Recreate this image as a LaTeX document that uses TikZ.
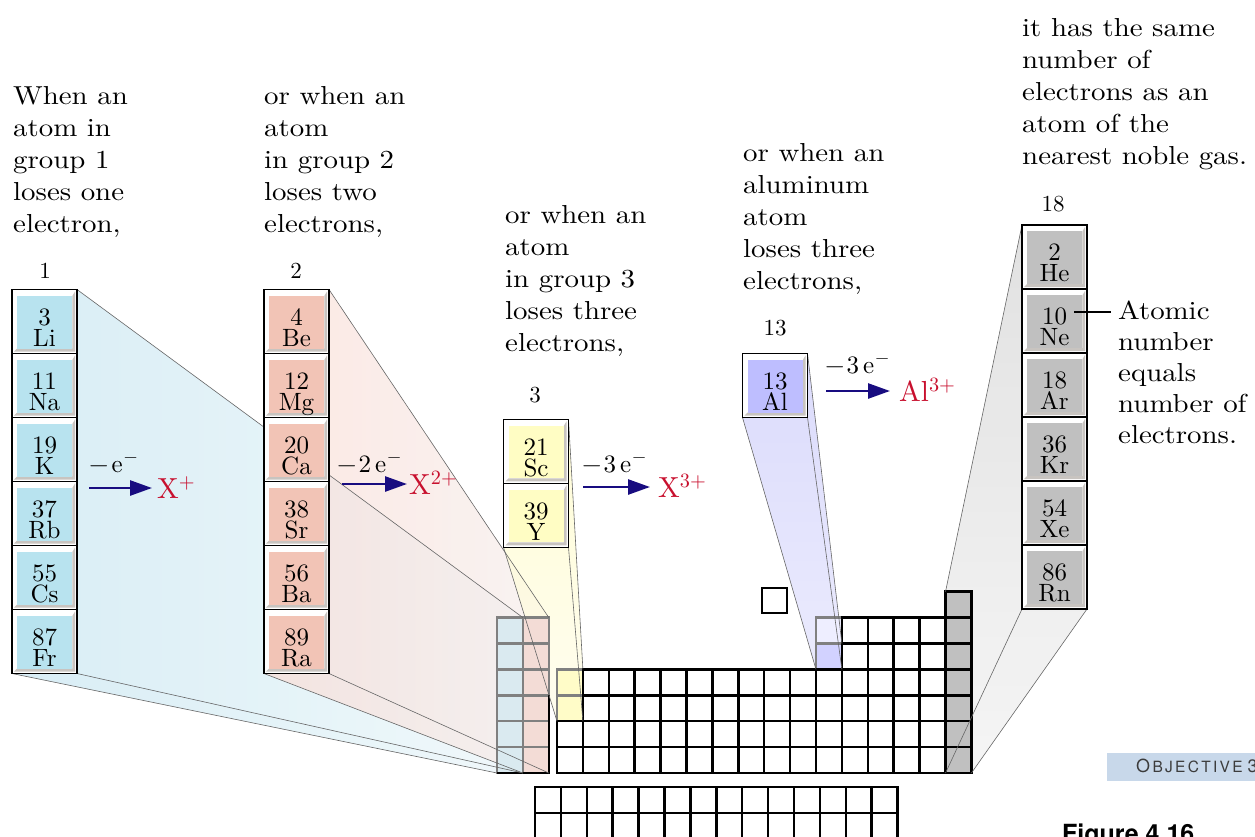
\documentclass[tikz,border=0pt]{standalone}
\usepackage{fontspec}
\setmainfont{lmroman10-regular.otf}
\newfontfamily\sansf{TeX Gyre Heros}
\newfontfamily\txtfont{lmroman10-regular.otf}[FakeStretch=1.11]
\usetikzlibrary{arrows.meta}
\definecolor{gOne}{RGB}{184,227,239}
\definecolor{gTwo}{RGB}{242,196,182}
\definecolor{gThree}{RGB}{255,253,196}
\definecolor{gAl}{RGB}{190,190,255}
\definecolor{gNoble}{RGB}{192,192,192}
\definecolor{bevelc}{RGB}{200,196,192}
\definecolor{fBlue}{RGB}{214,236,245}
\definecolor{fBlueB}{RGB}{240,248,251}
\definecolor{fPink}{RGB}{250,222,215}
\definecolor{fPinkB}{RGB}{246,238,236}
\definecolor{fYel}{RGB}{255,251,205}
\definecolor{fYelB}{RGB}{255,253,235}
\definecolor{fPur}{RGB}{216,216,252}
\definecolor{fPurB}{RGB}{232,232,253}
\definecolor{fGray}{RGB}{222,222,222}
\definecolor{fGrayB}{RGB}{244,244,244}
\definecolor{navyA}{RGB}{24,12,128}
\definecolor{redX}{RGB}{200,16,46}
\definecolor{objbg}{RGB}{200,216,234}
\definecolor{objtx}{RGB}{60,60,60}
\definecolor{cOne}{RGB}{218,234,240}
\definecolor{cTwo}{RGB}{243,220,214}
\definecolor{cYel}{RGB}{255,252,200}
\definecolor{cB}{RGB}{238,238,255}
\definecolor{cAl}{RGB}{210,210,255}
\definecolor{hlborder}{RGB}{128,128,128}

\newcommand\eltile[6]{%
  \node[tilebox] (#1) at ({#2+32.5},{#3+32}) {};
  \fill[bevelc] ({#2+63},{#3+2}) -- ({#2+63},{#3+62}) -- ({#2+2},{#3+62}) -- ({#2+5},{#3+59}) -- ({#2+60.4},{#3+59}) -- ({#2+60.4},{#3+6.4}) -- cycle;
  \fill[#4] ({#2+5},{#3+6.4}) rectangle ({#2+60.4},{#3+59});
  \node[tiletxt] (#1txt) at ({#2+32.5},{#3+18.5}) {\rule{0pt}{17pt}#5\\#6};
}

\begin{document}
\begin{tikzpicture}[x=1pt,y=-1pt,
  tilebox/.style={draw=black, line width=1.2pt, fill=white, minimum width=65pt, minimum height=64pt, inner sep=0pt, outer sep=0pt},
  tiletxt/.style={anchor=north, inner sep=0pt, align=center, font=\fontsize{25}{21}\selectfont},
  cell/.style={draw=black, line width=2.5pt, fill=white},
  hlcell/.style={draw=hlborder, line width=2.5pt},
  funnelline/.style={draw=black!60, line width=0.6pt},
  txt/.style={anchor=north west, inner sep=0pt, align=left, font=\txtfont\fontsize{26}{32}\selectfont},
  hdr/.style={anchor=base, inner sep=0pt, font=\fontsize{23}{23}\selectfont},
  rxn/.style={anchor=base west, inner sep=0pt, font=\fontsize{25}{25}\selectfont},
  ion/.style={anchor=base west, inner sep=0pt, text=redX, font=\fontsize{29}{29}\selectfont},
  rxarrow/.style={draw=navyA, line width=2.6pt, -{Triangle[length=22pt,width=15pt]}},
  leader/.style={draw=black, line width=2pt}]
\useasboundingbox (0,0) rectangle (1255,836);

% ---------- corner coordinates ----------
\coordinate (g1TL) at (12,289.5);  \coordinate (g1TR) at (77,289.5);
\coordinate (g1BL) at (12,673.5);  \coordinate (g1BR) at (77,673.5);
\coordinate (c1TR) at (522.9,617.6); \coordinate (c1BL) at (497,773); \coordinate (c1BR) at (522.9,773);
\coordinate (g2TL) at (264,289.5);  \coordinate (g2TR) at (329,289.5);
\coordinate (g2BL) at (264,673.5);  \coordinate (g2BR) at (329,673.5);
\coordinate (c2TR) at (548.8,617.6); \coordinate (c2BL) at (522.9,773); \coordinate (c2BR) at (548.8,773);
\coordinate (g3TL) at (503.5,419.3);  \coordinate (g3TR) at (568.5,419.3);
\coordinate (g3BL) at (503.5,547.3);  \coordinate (g3BR) at (568.5,547.3);
\coordinate (c3TR) at (582.9,669.4); \coordinate (c3BL) at (557,721.2); \coordinate (c3BR) at (582.9,721.2);
\coordinate (gaTL) at (742.5,353.5);  \coordinate (gaTR) at (807.5,353.5);
\coordinate (gaBL) at (742.5,417.5);  \coordinate (gaBR) at (807.5,417.5);
\coordinate (caTR) at (841.9,643.5); \coordinate (caBL) at (816,669.4); \coordinate (caBR) at (841.9,669.4);
\coordinate (g8TL) at (1022,225);  \coordinate (g8TR) at (1087,225);
\coordinate (g8BL) at (1022,609);  \coordinate (g8BR) at (1087,609);
\coordinate (c8TL) at (945.5,591.7); \coordinate (c8BL) at (945.5,773); \coordinate (c8BR) at (971.4,773);

% ---------- funnel fills ----------
\shade[left color=fBlue, right color=fBlueB, fill opacity=0.95] (g1TL) -- (g1TR) -- (c1TR) -- (c1BR) -- (c1BL) -- (g1BL) -- cycle;
\shade[left color=fPink, right color=fPinkB, fill opacity=0.7] (g2TL) -- (g2TR) -- (c2TR) -- (c2BR) -- (c2BL) -- (g2BL) -- cycle;
\shade[top color=fYel, bottom color=fYelB, fill opacity=0.8] (g3TL) -- (g3TR) -- (c3TR) -- (c3BR) -- (c3BL) -- (g3BL) -- cycle;
\shade[top color=fPur, bottom color=fPurB, fill opacity=0.9] (gaTL) -- (gaTR) -- (caTR) -- (caBR) -- (caBL) -- (gaBL) -- cycle;
\shade[top color=fGray, bottom color=fGrayB, fill opacity=0.9] (g8TL) -- (g8TR) -- (g8BR) -- (c8BR) -- (c8BL) -- (c8TL) -- cycle;

% ---------- periodic table ----------
\foreach \r in {0,...,5}{
  \draw[hlcell, fill=cOne] (497,{617.6+25.9*\r}) rectangle ++(25.9,25.9);
  \draw[hlcell, fill=cTwo] (522.9,{617.6+25.9*\r}) rectangle ++(25.9,25.9);
}
\draw[line width=2.5pt] (497,773) -- (548.8,773) -- (548.8,695);
\foreach \r in {0,1} \draw[hlcell, fill=cYel] (557,{669.4+25.9*\r}) rectangle ++(25.9,25.9);
\draw[hlcell, fill=cB] (816,617.6) rectangle ++(25.9,25.9);
\draw[hlcell, fill=cAl] (816,643.5) rectangle ++(25.9,25.9);
\foreach \r in {2,3} \draw[cell] (557,{669.4+25.9*\r}) rectangle ++(25.9,25.9);
\foreach \c in {1,...,9} \foreach \r in {0,...,3} \draw[cell] ({557+25.9*\c},{669.4+25.9*\r}) rectangle ++(25.9,25.9);
\foreach \r in {2,...,5} \draw[cell] (816,{617.6+25.9*\r}) rectangle ++(25.9,25.9);
\foreach \c in {11,...,14} \foreach \r in {0,...,5} \draw[cell] ({557+25.9*\c},{617.6+25.9*\r}) rectangle ++(25.9,25.9);
\foreach \r in {0,...,6} \draw[cell, fill=gNoble] (945.5,{591.7+25.9*\r}) rectangle ++(25.9,25.9);
\draw[cell] (762,588) rectangle (787,613);
\foreach \c in {0,...,13} \foreach \r in {0,1} \draw[cell] ({535+25.9*\c},{787+25.9*\r}) rectangle ++(25.9,25.9);

% ---------- funnel edges ----------
\draw[funnelline] (g1TR) -- (c1TR) (g1BL) -- (c1BL) (g1BR) -- (c1BR);
\draw[funnelline] (g2TR) -- (c2TR) (g2BL) -- (c2BL) (g2BR) -- (c2BR);
\draw[funnelline] (g3TR) -- (c3TR) (g3BL) -- (c3BL) (g3BR) -- (c3BR);
\draw[funnelline] (gaTR) -- (caTR) (gaBL) -- (caBL) (gaBR) -- (caBR);
\draw[funnelline] (g8TL) -- (c8TL) (g8BR) -- (c8BR) (g8BL) -- (c8BL);

% ---------- element tiles ----------
\eltile{li}{12}{289.5}{gOne}{3}{Li}
\eltile{na}{12}{353.5}{gOne}{11}{Na}
\eltile{k}{12}{417.5}{gOne}{19}{K}
\eltile{rb}{12}{481.5}{gOne}{37}{Rb}
\eltile{cs}{12}{545.5}{gOne}{55}{Cs}
\eltile{fr}{12}{609.5}{gOne}{87}{Fr}
\eltile{be}{264}{289.5}{gTwo}{4}{Be}
\eltile{mg}{264}{353.5}{gTwo}{12}{Mg}
\eltile{ca}{264}{417.5}{gTwo}{20}{Ca}
\eltile{sr}{264}{481.5}{gTwo}{38}{Sr}
\eltile{ba}{264}{545.5}{gTwo}{56}{Ba}
\eltile{ra}{264}{609.5}{gTwo}{89}{Ra}
\eltile{sc}{503.5}{419.3}{gThree}{21}{Sc}
\eltile{yt}{503.5}{483.3}{gThree}{39}{Y}
\eltile{al}{742.5}{353.5}{gAl}{13}{Al}
\eltile{he}{1022}{225}{gNoble}{2}{He}
\eltile{ne}{1022}{289}{gNoble}{10}{Ne}
\eltile{ar}{1022}{353}{gNoble}{18}{Ar}
\eltile{kr}{1022}{417}{gNoble}{36}{Kr}
\eltile{xe}{1022}{481}{gNoble}{54}{Xe}
\eltile{rn}{1022}{545}{gNoble}{86}{Rn}

% ---------- group headers ----------
\node[hdr] (h1) at (45,278) {1};
\node[hdr] (h2) at (296,278) {2};
\node[hdr] (h3) at (535,402) {3};
\node[hdr] (h13) at (775,335) {13};
\node[hdr] (h18) at (1053,211) {18};

% ---------- explanatory text ----------
\node[txt] (t1) at (13,84) {\rule{0pt}{20pt}When an\\atom in\\group 1\\loses one\\electron,};
\node[txt] (t2) at (264,84) {\rule{0pt}{20pt}or when an\\atom\\in group 2\\loses two\\electrons,};
\node[txt] (t3) at (505,203) {\rule{0pt}{20pt}or when an\\atom\\in group 3\\loses three\\electrons,};
\node[txt] (t4) at (743,141) {\rule{0pt}{20pt}or when an\\aluminum\\atom\\loses three\\electrons,};
\node[txt] (t5) at (1022,16) {\rule{0pt}{20pt}it has the same\\number of\\electrons as an\\atom of the\\nearest noble gas.};
\node[txt, font=\txtfont\fontsize{26}{31}\selectfont] (t6) at (1118,299) {\rule{0pt}{20pt}Atomic\\number\\equals\\number of\\electrons.};

% leader from atomic number to label
\coordinate (ldA) at (1074,312);
\coordinate (ldB) at (1111,312);
\draw[leader] (ldA) -- (ldB);

% ---------- reactions ----------
\node[rxn] (e1) at (89,472) {−\kern3pt e\kern1pt\textsuperscript{−}};
\coordinate (a1s) at (89,488); \coordinate (a1e) at (152,488);
\draw[rxarrow] (a1s) -- (a1e);
\node[ion] (x1) at (157,498) {X\textsuperscript{+}};

\node[rxn] (e2) at (337,472) {−\kern2pt 2\kern4pt e\kern1pt\textsuperscript{−}};
\coordinate (a2s) at (342,484); \coordinate (a2e) at (407,484);
\draw[rxarrow] (a2s) -- (a2e);
\node[ion] (x2) at (409,494) {X\textsuperscript{2+}};

\node[rxn] (e3) at (582,472) {−\kern2pt 3\kern4pt e\kern1pt\textsuperscript{−}};
\coordinate (a3s) at (583,487); \coordinate (a3e) at (650,487);
\draw[rxarrow] (a3s) -- (a3e);
\node[ion] (x3) at (658,497) {X\textsuperscript{3+}};

\node[rxn] (e4) at (825,373) {−\kern2pt 3\kern4pt e\kern1pt\textsuperscript{−}};
\coordinate (a4s) at (826,391); \coordinate (a4e) at (890,391);
\draw[rxarrow] (a4s) -- (a4e);
\node[ion] (x4) at (899,401) {Al\textsuperscript{3+}};

% ---------- objective tag and caption ----------
\fill[objbg] (1107,752.7) rectangle (1265,780.7);
\node[anchor=base west, inner sep=0pt, text=objtx] (obj) at (1136,772)
  {\sansf\fontsize{18}{18}\selectfont O\fontsize{15.5}{15.5}\selectfont\kern2.3pt B\kern2.3pt J\kern2.3pt E\kern2.3pt C\kern2.3pt T\kern2.3pt I\kern2.3pt V\kern2.3pt E\fontsize{18}{18}\selectfont\ 3};
\node[anchor=base west, inner sep=0pt] (fig) at (1062,842)
  {\sansf\bfseries\fontsize{25}{25}\selectfont Figure 4.16};
\end{tikzpicture}
\end{document}
